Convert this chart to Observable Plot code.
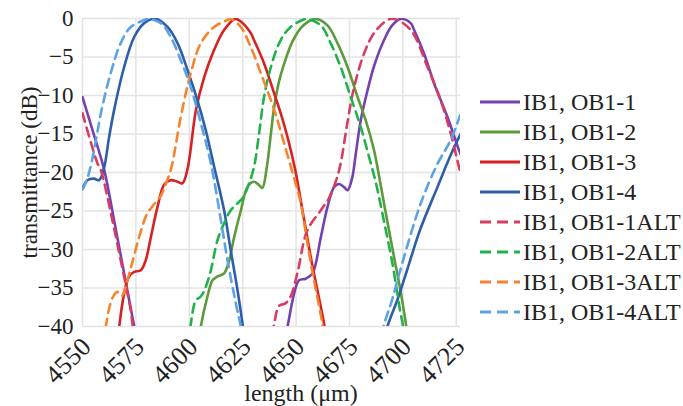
<!DOCTYPE html>
<html>
<head>
<meta charset="utf-8">
<script src="https://cdn.jsdelivr.net/npm/d3@7"></script>
<script src="https://cdn.jsdelivr.net/npm/@observablehq/plot@0.6"></script>
<style>
  body { margin: 0; background: #fff; }
  #wrap { position: relative; width: 683px; height: 406px; overflow: hidden;
          font-family: "Liberation Serif", "Times New Roman", Times, serif; color: #222; }
  #chart svg [aria-label="y-axis label"] text { font-size: 23px; }
  #legend { position: absolute; left: 480px; top: 87px; }
  .row { display: flex; align-items: center; height: 30px; }
  .row span { font-size: 24px; margin-left: 3px; white-space: nowrap; color: #222;
              font-family: "Liberation Serif", "Times New Roman", Times, serif; }
  #xlabel { position: absolute; left: 301px; top: 381px; transform: translateX(-50%);
            font-size: 24px; line-height: 24px; white-space: nowrap; color: #222;
            font-family: "Liberation Serif", "Times New Roman", Times, serif; }
</style>
</head>
<body>
<div id="wrap">
  <div id="chart"></div>
  <div id="legend"></div>
  <div id="xlabel">length (μm)</div>
</div>
<script>
// ---- data (length in µm, transmittance in dB); null = curve leaves the plotted range
const seriesNames = ["IB1, OB1-1", "IB1, OB1-2", "IB1, OB1-3", "IB1, OB1-4",
                     "IB1, OB1-1ALT", "IB1, OB1-2ALT", "IB1, OB1-3ALT", "IB1, OB1-4ALT"];

const len_OB1_1 = [4550, 4555, 4560.1, 4564.8, 4569.5, 4574.2, 4576, null,
  4643, 4646, 4649.1, 4651.4, 4654.5, 4657.7, 4661.6, 4664.7, 4667.8, 4670.2, 4672.5, 4674.1,
  4676.2, 4678, 4680.3, 4683.5, 4686.5, 4691.2, 4695, 4699, 4703.7, 4705.3, 4710, 4714.6, 4720.9, 4726.3, 4727];
const dB_OB1_1 = [-10.2, -14.8, -19.6, -26.2, -33.1, -40, -42.5, null,
  -43.5, -40, -35.7, -34, -33.8, -33.1, -28.4, -24.5, -21.9, -21.5, -21.9, -22.3,
  -20.8, -17.5, -13.2, -9.3, -6.2, -2.8, -0.9, -0.05, -0.6, -1.5, -4.6, -8.4, -12.8, -17.1, -17.6];

const len_OB1_2 = [4603.5, 4605.4, 4608.5, 4610.9, 4613.2, 4616.3, 4618.7, 4621, 4624.1, 4627.2,
  4630.3, 4632.5, 4634.2, 4636.2, 4638.2, 4639.7, 4642, 4644.4, 4648.3, 4653, 4659.2, 4664.7,
  4669.4, 4674.1, 4678.8, 4682.6, 4686.5, 4688.1, 4691.5, 4695.9, 4699, 4701.4, 4703];
const dB_OB1_2 = [-44, -40, -36.1, -34, -33.5, -33.1, -31.4, -28.4, -25, -21.9,
  -21.2, -21.6, -22, -19.5, -15, -11.6, -8.2, -5.9, -3.0, -1.0, -0.05, -0.9,
  -3.2, -6.3, -10.2, -13.2, -17.1, -19.3, -24.5, -31, -35.5, -39.6, -43];

const len_OB1_3 = [4565.5, 4567.2, 4569.5, 4571.8, 4574.2, 4577.3, 4579.6, 4582, 4585.1, 4588.2,
  4591.3, 4594.5, 4596.8, 4599.2, 4603.1, 4607, 4611.6, 4616.3, 4621.5, 4624.1, 4628.8, 4630.3,
  4635, 4639.7, 4642.8, 4646, 4649.5, 4653, 4656.9, 4660, 4663.1, 4665];
const dB_OB1_3 = [-44, -40, -35.7, -33.5, -32.9, -32.7, -31.4, -28.4, -24.5, -21.6,
  -21, -21.2, -21.4, -19.5, -11.9, -7.6, -4.1, -1.5, -0.05, -0.4, -1.9, -2.8,
  -5.8, -9.7, -12.3, -15.4, -19.5, -24.9, -31, -35.3, -39.6, -43];

const len_OB1_4 = [4550, 4552.3, 4555.4, 4557.8, 4560.1, 4562.4, 4564.8, 4569.5, 4574.2, 4578.9,
  4584.3, 4589.8, 4594.5, 4599.2, 4603.8, 4607.7, 4611.6, 4616.3, 4619.4, 4622.6, 4624.9, 4626.5, null,
  4690.5, 4692.8, 4697.5, 4702.2, 4708, 4716.2, 4722, 4725.6, 4727];
const dB_OB1_4 = [-22.1, -21, -20.8, -21, -19.4, -15.5, -11.9, -6.3, -2.4, -0.6,
  -0.05, -1.1, -3.2, -6.7, -10.6, -14.5, -19.2, -24.9, -30.1, -35.3, -39.6, -43, null,
  -43, -40, -36.5, -32.5, -27.5, -21.9, -18, -15.8, -15];

const len_OB1_1ALT = [4550, 4557, 4558.6, 4563.3, 4567.9, 4572.6, 4573.4, 4575, null,
  4638, 4639.8, 4642.1, 4645, 4647.6, 4650.6, 4655.3, 4661.6, 4665.5, 4668.8, 4670.9, 4674,
  4677.2, 4681.9, 4686.5, 4692.8, 4695.9, 4703.7, 4711.7, 4717.8, 4722.5, 4726.3, 4727];
const dB_OB1_1ALT = [-12.3, -18.8, -19.7, -25.3, -31.4, -37.9, -39.7, -43, null,
  -43, -39.6, -37.3, -37, -36, -33.1, -27.5, -24.9, -23.3, -21, -18.8, -13.6,
  -8.9, -4.5, -1.9, -0.2, -0.05, -1.5, -6.4, -10.7, -15, -19.3, -20];

const len_OB1_2ALT = [4599, 4600.7, 4603.1, 4605.4, 4607.5, 4610.1, 4613.2, 4616.3, 4619.4, 4622.6,
  4625.3, 4627.5, 4630.3, 4632.7, 4635, 4638.2, 4642.8, 4647.5, 4653.8, 4655.3, 4661.6, 4666.2,
  4670.9, 4675.6, 4680.3, 4684.2, 4687.5, 4690.4, 4695.1, 4699, 4699.9, 4701];
const dB_OB1_2ALT = [-44, -39.7, -36.6, -36.1, -35, -32.7, -28.8, -26.6, -24.9, -24,
  -23.2, -21.8, -19.3, -14.9, -10.2, -6.3, -2.8, -1.1, -0.1, -0.05, -0.9, -3.2,
  -6.3, -10.2, -14.1, -18, -21.5, -25.3, -31.8, -38.4, -39.6, -43];

const len_OB1_3ALT = [4559, 4560.9, 4564, 4566.4, 4568.5, 4570.5, 4573, 4576.5, 4580, 4583,
  4586.7, 4589, 4590.6, 4592.1, 4596, 4600.7, 4605.4, 4611.6, 4617.9, 4619.4, 4624.1, 4628.8,
  4633.5, 4638.2, 4641.3, 4644.4, 4648, 4652.2, 4655.3, 4658.4, 4662.3, 4664];
const dB_OB1_3ALT = [-44, -40, -36.3, -35.5, -36, -34.5, -32, -28.4, -25.5, -24.3,
  -23, -21.5, -20.3, -18.8, -12.8, -7.1, -3.2, -1.1, -0.2, -0.05, -1.1, -3.7,
  -7.1, -10.6, -13.2, -16.2, -19.7, -24, -29.2, -34, -39.6, -43];

const len_OB1_4ALT = [4550, 4552, 4554, 4556.5, 4558.6, 4563.2, 4567.9, 4572.6, 4578.9, 4580.4,
  4586.7, 4591.3, 4596, 4600.7, 4605.4, 4610.1, 4614.8, 4617.9, 4621.8, 4624.1, 4625.5, null,
  4689.5, 4691, 4695, 4700, 4708.4, 4716, 4722.4, 4727];
const dB_OB1_4ALT = [-22.2, -21, -19, -15.5, -12.3, -7.1, -3.2, -1.1, -0.2, -0.05,
  -0.6, -2.4, -5.4, -8.9, -13.6, -18.8, -26.2, -31.4, -37, -40, -43, null,
  -43, -40, -36.5, -31.5, -24, -19, -15.8, -12.4];

const lengths = [len_OB1_1, len_OB1_2, len_OB1_3, len_OB1_4,
                 len_OB1_1ALT, len_OB1_2ALT, len_OB1_3ALT, len_OB1_4ALT];
const values = [dB_OB1_1, dB_OB1_2, dB_OB1_3, dB_OB1_4,
                dB_OB1_1ALT, dB_OB1_2ALT, dB_OB1_3ALT, dB_OB1_4ALT];

const xTicks = [4550, 4575, 4600, 4625, 4650, 4675, 4700, 4725];
const yTicks = [0, -5, -10, -15, -20, -25, -30, -35, -40];

// ---- styles
const serif = '"Liberation Serif", "Times New Roman", Times, serif';
const colors = ["#7541b1", "#5c9a3b", "#d62222", "#2e5daa", "#d83c60", "#22b24c", "#f5842f", "#5ba3e2"];
const dashed = [false, false, false, false, true, true, true, true];

const rows = [];
seriesNames.forEach((name, i) => {
  lengths[i].forEach((x, j) => rows.push({series: name, x, y: values[i][j]}));
});

const lineMarks = seriesNames.map((name, i) =>
  Plot.line(rows.filter(d => d.series === name), {
    x: "x", y: "y",
    stroke: colors[i],
    strokeWidth: 2.6,
    strokeDasharray: dashed[i] ? "9,6" : null,
    curve: "catmull-rom",
    clip: true
  })
);

const fmtY = d => d === 0 ? "0" : "\u2212" + Math.abs(d);

const chart = Plot.plot({
  width: 683,
  height: 406,
  marginLeft: 82,
  marginRight: 223,
  marginTop: 18,
  marginBottom: 80,
  style: {background: "#fff", color: "#222", fontFamily: serif},
  x: {domain: [4550, 4727]},
  y: {domain: [-40, 0]},
  marks: [
    Plot.gridX(xTicks, {stroke: "#e3e3e3", strokeOpacity: 1, strokeWidth: 1.5}),
    Plot.gridY(yTicks, {stroke: "#e3e3e3", strokeOpacity: 1, strokeWidth: 1.5}),
    ...lineMarks,
    Plot.axisX(xTicks, {tickSize: 0, tickPadding: 16, dx: 4, tickRotate: -45, fontSize: 26,
                        tickFormat: d => String(d), label: null}),
    Plot.axisY(yTicks, {tickSize: 0, tickPadding: 9, fontSize: 23, tickFormat: fmtY,
                        label: "transmittance (dB)", labelAnchor: "center", labelArrow: "none",
                        labelOffset: 62})
  ]
});
document.getElementById("chart").appendChild(chart);

// ---- legend
const legend = document.getElementById("legend");
seriesNames.forEach((name, i) => {
  const row = document.createElement("div");
  row.className = "row";
  const sw = d3.create("svg").attr("width", 40).attr("height", 6);
  sw.append("line").attr("x1", 0).attr("x2", 40).attr("y1", 3).attr("y2", 3)
    .attr("stroke", colors[i]).attr("stroke-width", 3)
    .attr("stroke-dasharray", dashed[i] ? "11,6" : null);
  row.appendChild(sw.node());
  const label = document.createElement("span");
  label.textContent = name;
  row.appendChild(label);
  legend.appendChild(row);
});
</script>
</body>
</html>
